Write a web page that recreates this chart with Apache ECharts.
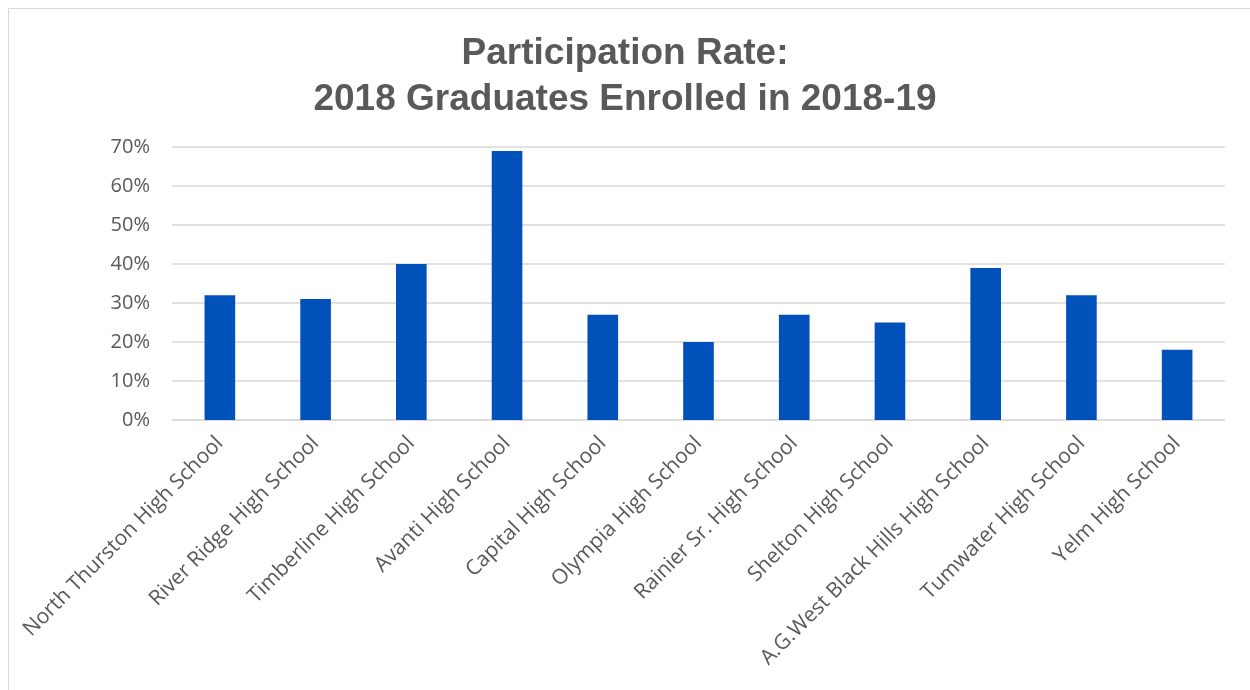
<!DOCTYPE html>
<html>
<head>
<meta charset="utf-8">
<script src="https://cdn.jsdelivr.net/npm/echarts@6/dist/echarts.min.js"></script>
<style>
html,body{margin:0;padding:0;background:#fff;}
#chart{width:1250px;height:690px;}
</style>
</head>
<body>
<div id="chart"></div>
<script>
const titleText = 'Participation Rate:\n2018 Graduates Enrolled in 2018-19';
const schools = [
  'North Thurston High School',
  'River Ridge High School',
  'Timberline High School',
  'Avanti High School',
  'Capital High School',
  'Olympia High School',
  'Rainier Sr. High School',
  'Shelton High School',
  'A.G.West Black Hills High School',
  'Tumwater High School',
  'Yelm High School'
];
const rates = [32, 31, 40, 69, 27, 20, 27, 25, 39, 32, 18];
const yTicks = [0, 10, 20, 30, 40, 50, 60, 70];

const chart = echarts.init(document.getElementById('chart'), null, {renderer: 'canvas'});
chart.setOption({
  backgroundColor: '#ffffff',
  animation: false,
  graphic: [{
    type: 'rect',
    shape: {x: 8.5, y: 8.5, width: 1260, height: 700},
    style: {fill: 'none', stroke: '#d9d9d9', lineWidth: 1},
    silent: true
  }],
  title: {
    text: titleText,
    left: 'center',
    top: 26,
    textStyle: {
      fontFamily: 'Liberation Sans, Arial, sans-serif',
      fontWeight: 'bold',
      fontSize: 37,
      color: '#595959',
      lineHeight: 46
    }
  },
  grid: {left: 172, right: 25, top: 147, height: 273, containLabel: false},
  xAxis: {
    type: 'category',
    data: schools,
    axisLine: {show: true, lineStyle: {color: '#d9d9d9', width: 1}},
    axisTick: {show: false},
    axisLabel: {
      rotate: 45,
      interval: 0,
      margin: 20,
      color: '#595959',
      fontSize: 21,
      fontFamily: 'Open Sans, Noto Sans, sans-serif'
    }
  },
  yAxis: {
    type: 'value',
    min: yTicks[0],
    max: yTicks[yTicks.length - 1],
    interval: 10,
    axisLine: {show: false},
    axisTick: {show: false},
    splitLine: {lineStyle: {color: '#d9d9d9', width: 1.5}},
    axisLabel: {
      formatter: '{value}%',
      color: '#595959',
      fontSize: 20,
      margin: 22,
      fontFamily: 'Open Sans, Noto Sans, sans-serif'
    }
  },
  series: [{
    type: 'bar',
    data: rates,
    barWidth: '32%',
    itemStyle: {color: '#0052BA'}
  }]
});
</script>
</body>
</html>
